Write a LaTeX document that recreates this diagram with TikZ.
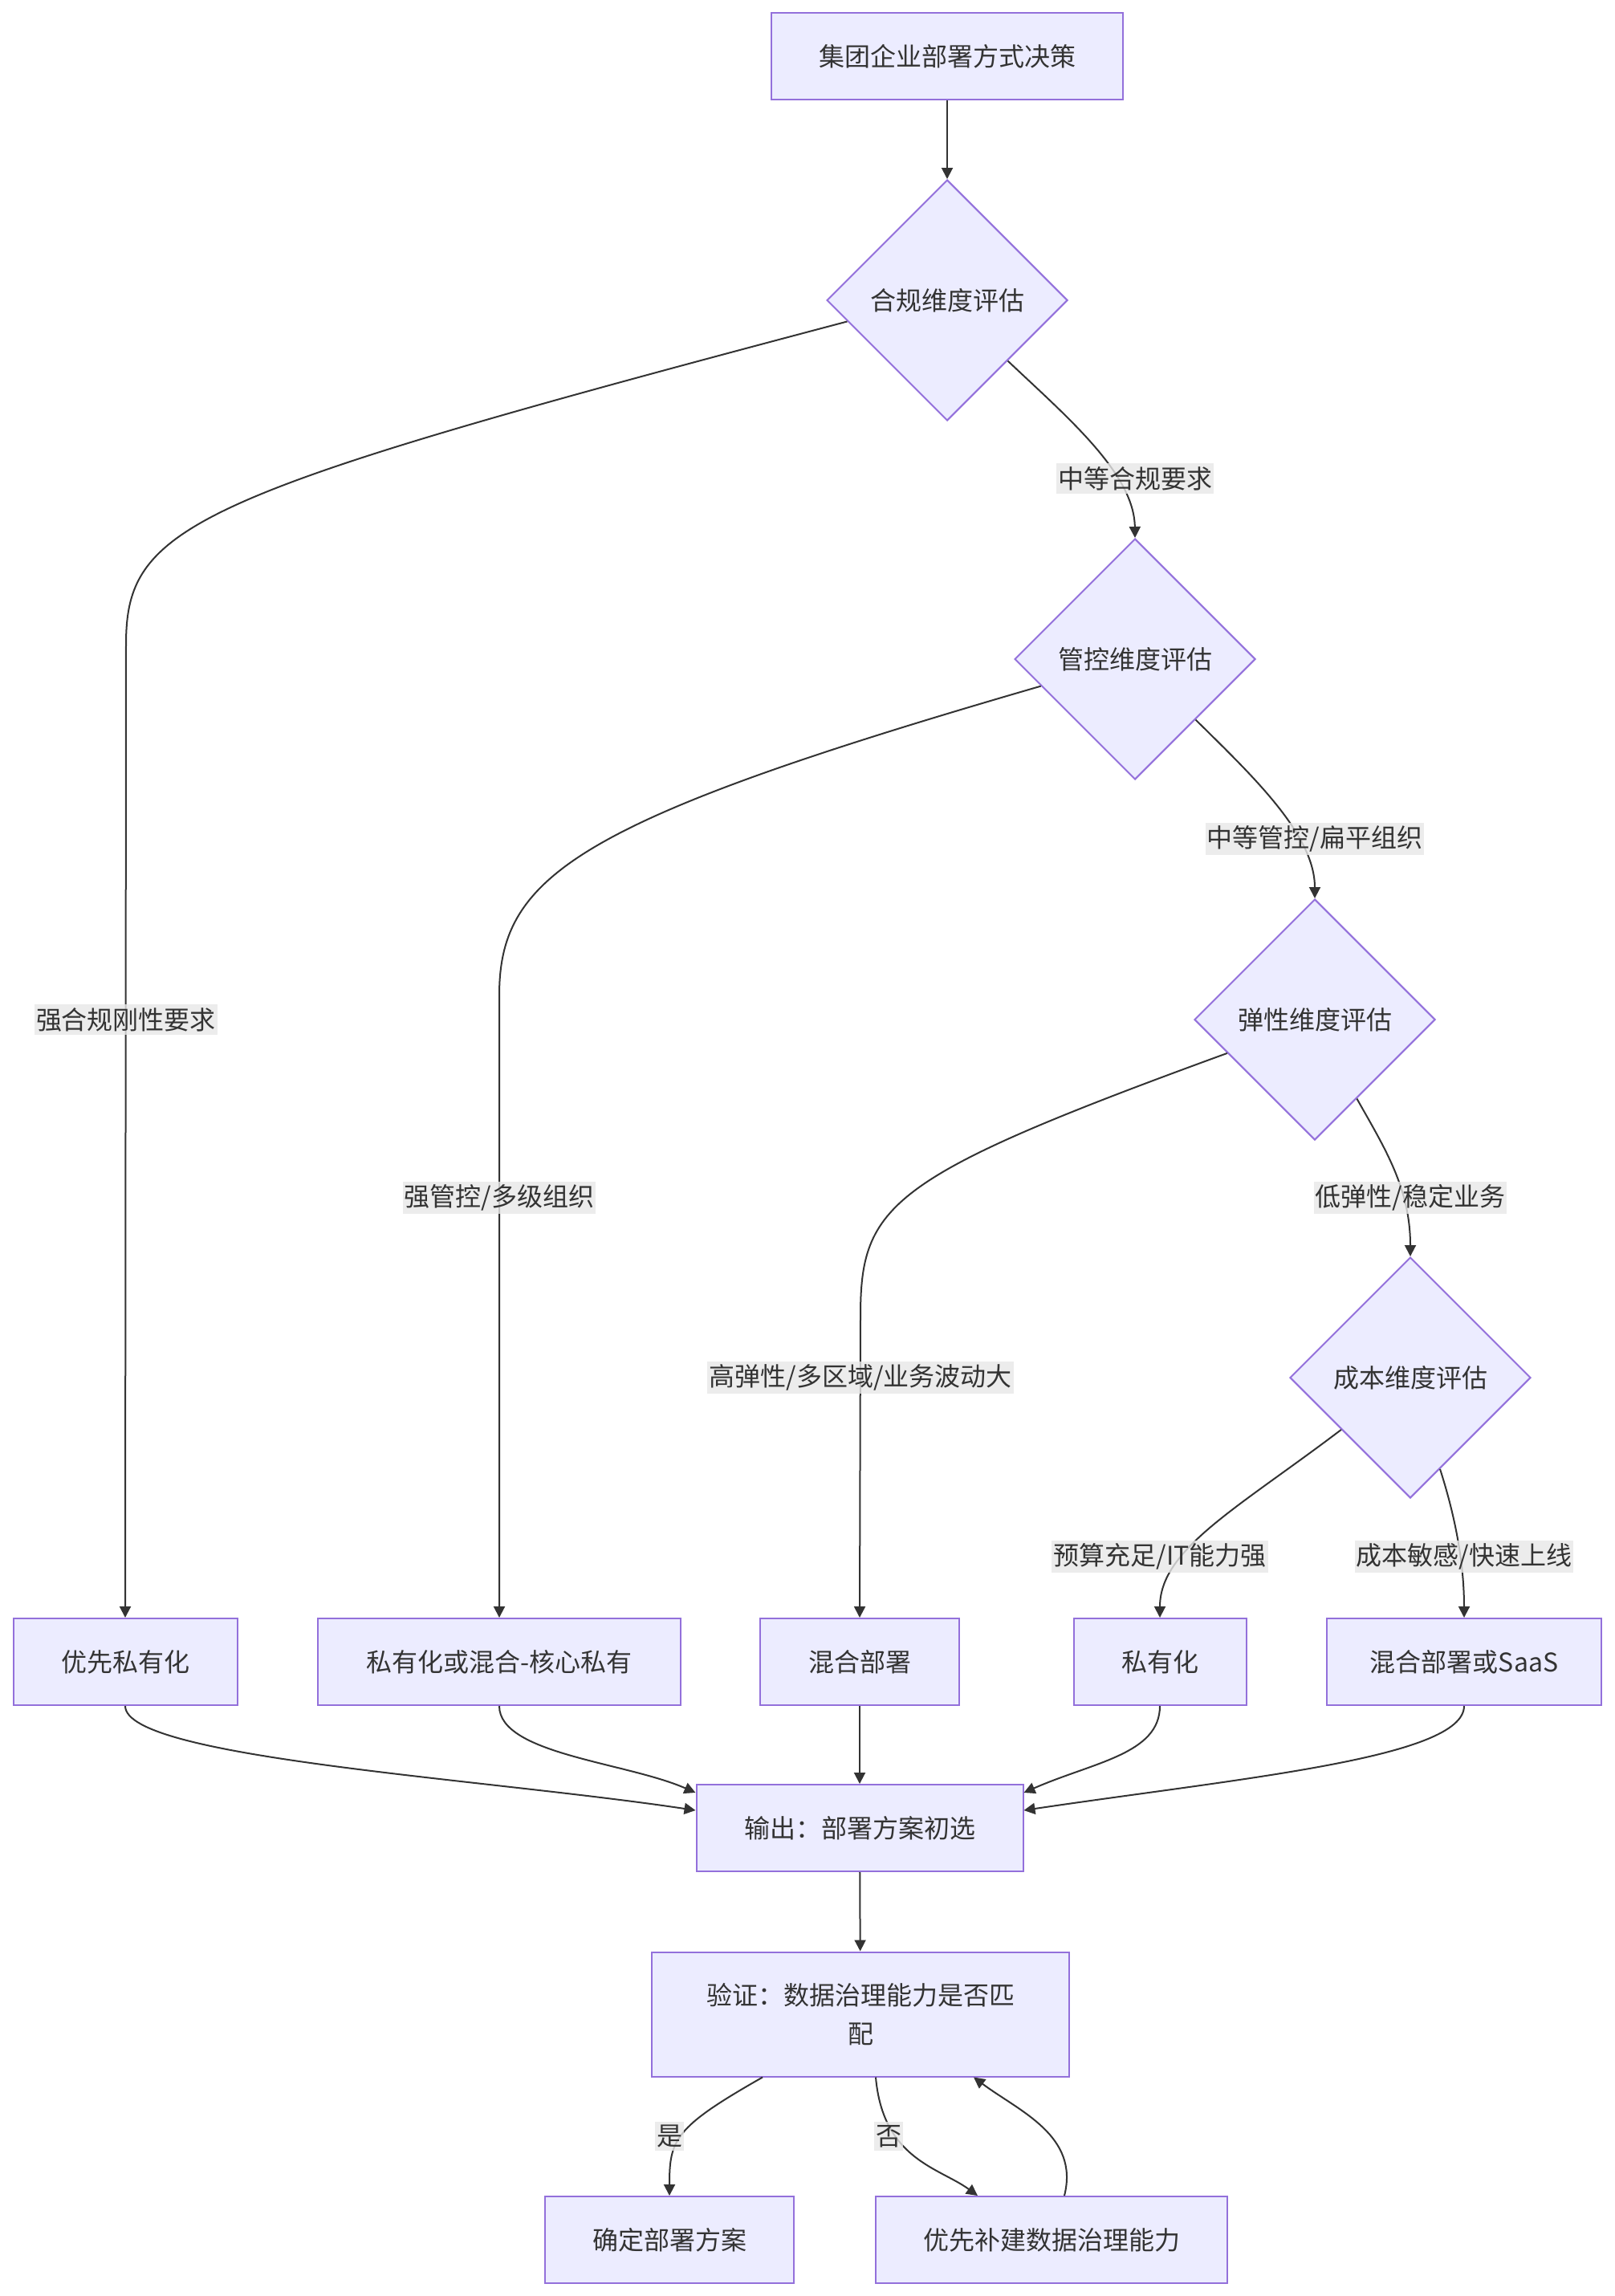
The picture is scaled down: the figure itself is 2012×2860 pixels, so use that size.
\documentclass[tikz,border=0pt]{standalone}
\usepackage{fontspec}
\setmainfont{Noto Sans CJK SC}
\usetikzlibrary{shapes.geometric, arrows.meta}
\definecolor{boxfill}{HTML}{ECECFF}
\definecolor{boxline}{HTML}{9370DB}
\definecolor{ink}{HTML}{333333}
\definecolor{lblfill}{HTML}{E8E8E8}

\tikzset{
  base/.style={draw=boxline, fill=boxfill, line width=1pt, text=ink, font=\fontsize{16pt}{24pt}\selectfont},
  box/.style={base, rectangle, minimum height=54pt, inner sep=0pt, align=center},
  decision/.style={base, diamond, minimum width=150pt, minimum height=150pt, inner sep=0pt},
  edge/.style={draw=ink, line width=1pt, -{Triangle[length=7pt,width=7pt]}},
  lbl/.style={fill=lblfill, fill opacity=0.8, text opacity=1, text=ink, inner xsep=1pt, inner ysep=2pt, font=\fontsize{16pt}{24pt}\selectfont}
}

\begin{document}
\begin{tikzpicture}[x=0.5pt, y=-0.5pt]
\useasboundingbox (0,0) rectangle (2012,2860);
\fill[white] (0,0) rectangle (2012,2860);

% nodes
\node[box, minimum width=219pt] (start) at (1180,70) {集团企业部署方式决策};
\node[decision] (d1) at (1180,374) {合规维度评估};
\node[decision] (d2) at (1414,821) {管控维度评估};
\node[decision] (d3) at (1638,1270) {弹性维度评估};
\node[decision] (d4) at (1757,1716) {成本维度评估};
\node[box, minimum width=139.5pt] (p1) at (156,2070) {优先私有化};
\node[box, minimum width=226pt] (p2) at (622,2070) {私有化或混合-核心私有};
\node[box, minimum width=124pt] (p3) at (1071,2070) {混合部署};
\node[box, minimum width=107.5pt] (p4) at (1445,2070) {私有化};
\node[box, minimum width=171pt] (p5) at (1824,2070) {混合部署或SaaS};
\node[box, minimum width=203.5pt] (out) at (1071,2277) {输出：部署方案初选};
\node[box, minimum width=260pt, minimum height=77.5pt] (ver) at (1072,2509) {验证：数据治理能力是否匹\\配};
\node[box, minimum width=155pt] (ok) at (834,2790) {确定部署方案};
\node[box, minimum width=219pt] (fix) at (1310,2790) {优先补建数据治理能力};

% connectors
\draw[edge] (start) -- (d1);
\draw[edge] (d1.south east) .. controls (1330,520) and (1413,590) .. (d2.north);
\draw[edge] (d1.192.5) .. controls (236,617) and (157,653) .. (157,803) -- (p1.north);
\draw[edge] (d2.196) .. controls (719,1022) and (622,1090) .. (622,1240) -- (p2.north);
\draw[edge] (d2.south east) .. controls (1562,968) and (1638,1040) .. (d3.north);
\draw[edge] (d3.298) .. controls (1725,1430) and (1757,1480) .. (d4.north);
\draw[edge] (d3.201.5) .. controls (1106,1466) and (1072,1500) .. (1072,1640) -- (p3.north);
\draw[edge] (d4.217) .. controls (1540,1880) and (1445,1930) .. (p4.north);
\draw[edge] (d4.288) .. controls (1810,1880) and (1824,1940) .. (p5.north);

\draw[edge] (p1.south) .. controls (156,2190) and (600,2215) .. ([yshift=11pt]out.west);
\draw[edge] (p2.south) .. controls (622,2185) and (780,2195) .. ([yshift=22pt]out.west);
\draw[edge] (p3) -- (out);
\draw[edge] (p4.south) .. controls (1445,2185) and (1362,2195) .. ([yshift=22pt]out.east);
\draw[edge] (p5.south) .. controls (1824,2190) and (1545,2215) .. ([yshift=11pt]out.east);

\draw[edge] (out) -- (ver);
\draw[edge] ([xshift=-61pt]ver.south) .. controls (840,2650) and (834,2665) .. (ok.north);
\draw[edge] ([xshift=9.5pt]ver.south) .. controls (1100,2690) and (1170,2700) .. ([xshift=-46pt]fix.north);
\draw[edge] ([xshift=8pt]fix.north) .. controls (1345,2660) and (1270,2630) .. ([xshift=70.5pt]ver.south);

% labels
\node[lbl] (l1) at (1414,596) {中等合规要求};
\node[lbl] (l2) at (157,1270) {强合规刚性要求};
\node[lbl] (l3) at (1638,1045) {中等管控/扁平组织};
\node[lbl] (l4) at (622,1492) {强管控/多级组织};
\node[lbl] (l5) at (1757,1492) {低弹性/稳定业务};
\node[lbl] (l6) at (1072,1716) {高弹性/多区域/业务波动大};
\node[lbl] (l7) at (1445,1939) {预算充足/IT能力强};
\node[lbl] (l8) at (1824,1939) {成本敏感/快速上线};
\node[lbl] (l9) at (834,2661) {是};
\node[lbl] (l10) at (1107,2661) {否};
\end{tikzpicture}
\end{document}
